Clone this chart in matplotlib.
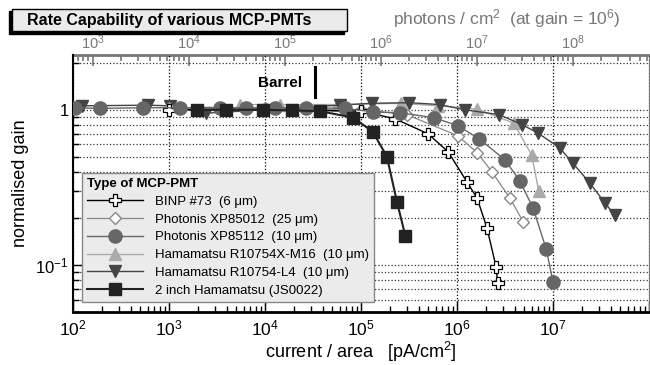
import matplotlib
matplotlib.use('Agg')
import matplotlib.pyplot as plt
from matplotlib.patches import Rectangle
from matplotlib.ticker import LogLocator, NullFormatter, FixedLocator, FixedFormatter

plt.rcParams['font.family'] = 'Liberation Sans'
plt.rcParams['mathtext.fontset'] = 'custom'
plt.rcParams['mathtext.rm'] = 'Liberation Sans'
plt.rcParams['mathtext.it'] = 'Liberation Sans:italic'
plt.rcParams['mathtext.bf'] = 'Liberation Sans:bold'

# data (current / area in pA/cm^2, normalised gain)
binp_x = [1.0e3, 1.0e4, 1.0e5, 2.26e5, 5.0e5, 8.1e5, 1.27e6, 1.62e6, 2.05e6, 2.55e6, 2.65e6]
binp_y = [1.0, 1.0, 0.98, 0.875, 0.70, 0.536, 0.343, 0.27, 0.174, 0.098, 0.077]

xp85012_x = [1.0e3, 1.0e4, 1.0e5, 3.0e5, 1.02e6, 1.62e6, 2.3e6, 3.56e6, 4.9e6]
xp85012_y = [1.02, 1.02, 1.0, 0.93, 0.68, 0.53, 0.40, 0.27, 0.19]

xp85112_x = [105, 190, 535, 1290, 3400, 6400, 1.26e4, 2.7e4, 6.8e4, 1.33e5, 2.56e5,
             5.7e5, 1.02e6, 1.7e6, 3.16e6, 4.5e6, 6.2e6, 8.5e6, 1.0e7]
xp85112_y = [1.03, 1.02, 1.03, 1.03, 1.03, 1.03, 1.03, 1.03, 1.02, 0.97, 0.956,
             0.89, 0.79, 0.65, 0.476, 0.35, 0.233, 0.127, 0.078]

m16_x = [5.5e3, 1.45e4, 5.6e4, 2.6e5, 6.3e5, 1.62e6, 3.9e6, 6.0e6, 7.1e6]
m16_y = [1.08, 1.08, 1.08, 1.10, 1.06, 1.01, 0.82, 0.51, 0.30]

l4_x = [124, 600, 1.02e3, 2.4e3, 6e4, 1.29e5, 3.2e5, 6.6e5, 1.2e6, 2.75e6, 4.8e6,
        6.9e6, 1.17e7, 1.6e7, 2.4e7, 3.5e7, 4.4e7]
l4_y = [1.06, 1.07, 1.06, 0.95, 1.07, 1.10, 1.11, 1.08, 1.0, 0.93, 0.80,
        0.71, 0.57, 0.455, 0.34, 0.25, 0.21]

js0022_x = [1950, 3900, 9550, 1.9e4, 3.7e4, 8.3e4, 1.33e5, 1.86e5, 2.37e5, 2.9e5]
js0022_y = [1.0, 1.0, 1.0, 0.99, 0.98, 0.89, 0.72, 0.50, 0.255, 0.154]

labels = ['BINP #73  (6 μm)', 'Photonis XP85012  (25 μm)', 'Photonis XP85112  (10 μm)',
          'Hamamatsu R10754X-M16  (10 μm)', 'Hamamatsu R10754-L4  (10 μm)',
          '2 inch Hamamatsu (JS0022)']

bottom_ticks = [1e2, 1e3, 1e4, 1e5, 1e6, 1e7, 1e8]
bottom_ticklabels = [r'$10^{2}$', r'$10^{3}$', r'$10^{4}$', r'$10^{5}$', r'$10^{6}$', r'$10^{7}$', '']
top_ticks = [1e3, 1e4, 1e5, 1e6, 1e7, 1e8]
top_ticklabels = [r'$10^{3}$', r'$10^{4}$', r'$10^{5}$', r'$10^{6}$', r'$10^{7}$', r'$10^{8}$']

photons_per_pA = 6.25   # pA/cm^2 -> photons/cm^2 at gain 1e6

fig = plt.figure(figsize=(6.5, 3.65), dpi=100)
ax = fig.add_axes([73/650, 1-312/365, 576/650, 257/365])

# series, drawn back to front
h_m16, = ax.plot(m16_x, m16_y, marker='^', ms=9, color='#aaaaaa', lw=1, zorder=3, label=labels[3])
h_l4, = ax.plot(l4_x, l4_y, marker='v', ms=9, color='#444444', lw=1, zorder=3, label=labels[4])
h_012, = ax.plot(xp85012_x, xp85012_y, marker='D', ms=6.5, color='#888888', mfc='white',
                 mec='#888888', lw=0.9, zorder=4, label=labels[1])
h_binp, = ax.plot(binp_x, binp_y, marker='P', ms=8.5, color='black', mfc='white',
                  mec='black', mew=0.9, lw=1, zorder=5, label=labels[0])
h_112, = ax.plot(xp85112_x, xp85112_y, marker='o', ms=9.5, color='#666666', lw=1, zorder=6, label=labels[2])
h_js, = ax.plot(js0022_x, js0022_y, marker='s', ms=9, color='#222222', lw=1.5, zorder=7, label=labels[5])

ax.set_xscale('log')
ax.set_yscale('log')
ax.set_xlim(1e2, 1e8)
ax.set_ylim(0.05, 2.25)

ax.xaxis.set_major_locator(FixedLocator(bottom_ticks))
ax.xaxis.set_major_formatter(FixedFormatter(bottom_ticklabels))
ax.xaxis.set_minor_locator(LogLocator(base=10, subs=range(2, 10), numticks=100))
ax.xaxis.set_minor_formatter(NullFormatter())
ax.yaxis.set_major_locator(FixedLocator([0.1, 1]))
ax.yaxis.set_major_formatter(FixedFormatter([r'$10^{-1}$', '1']))
ax.yaxis.set_minor_locator(LogLocator(base=10, subs=range(2, 10), numticks=100))
ax.yaxis.set_minor_formatter(NullFormatter())

ax.grid(True, which='major', axis='x', ls=':', color='black', lw=0.9)
ax.grid(True, which='both', axis='y', ls=':', color='#333333', lw=0.9)
ax.set_axisbelow(True)

ax.tick_params(which='both', direction='in', top=False, right=False, labelsize=12.5)
ax.tick_params(which='major', length=8, width=1)
ax.tick_params(which='minor', length=4, width=1)
ax.tick_params(axis='x', pad=5)
ax.tick_params(axis='y', pad=3, labelsize=12)
ax.spines['bottom'].set_linewidth(2)
ax.spines['left'].set_linewidth(1.5)
ax.spines['right'].set_linewidth(0.8)
ax.spines['right'].set_color('#777777')
ax.spines['top'].set_visible(False)

ax.set_xlabel('current / area   [pA/cm$^2$]', fontsize=13, labelpad=1)
ax.set_ylabel('normalised gain', fontsize=13, labelpad=5)

# top axis: photons / cm^2
secax = ax.secondary_xaxis('top', functions=(lambda x: x * photons_per_pA,
                                             lambda x: x / photons_per_pA))
secax.xaxis.set_major_locator(FixedLocator(top_ticks))
secax.xaxis.set_major_formatter(FixedFormatter(top_ticklabels))
secax.xaxis.set_minor_locator(LogLocator(base=10, subs=range(2, 10), numticks=100))
secax.xaxis.set_minor_formatter(NullFormatter())
secax.tick_params(which='both', direction='in', colors='#777777', labelsize=10.5, pad=2)
secax.tick_params(which='major', length=8, width=1.2)
secax.tick_params(which='minor', length=4, width=1.2)
secax.spines['top'].set_color('#777777')
secax.spines['top'].set_linewidth(2)

fig.text(393/650, 1-24/365, 'photons / cm$^2$  (at gain = 10$^6$)', color='#777777',
         fontsize=12.5, va='baseline', ha='left')

# Barrel marker
ax.text(2.43e4, 1.49, 'Barrel', fontsize=11, fontweight='bold', ha='right', va='center')
ax.plot([3.3e4, 3.3e4], [1.21, 1.87], color='black', lw=2.2, zorder=8)

# title box with shadow
fig.patches.append(Rectangle((9/650, 1-34/365), 335/650, 23/365, transform=fig.transFigure,
                             facecolor='black', edgecolor='black', zorder=1))
fig.patches.append(Rectangle((12/650, 1-31/365), 335/650, 22/365, transform=fig.transFigure,
                             facecolor='#ebebeb', edgecolor='black', lw=1, zorder=2))
fig.text(27/650, 1-20/365, 'Rate Capability of various MCP-PMTs', fontsize=11.5,
         fontweight='bold', va='center', ha='left', zorder=3)

leg = ax.legend(handles=[h_binp, h_012, h_112, h_m16, h_l4, h_js],
                title='Type of MCP-PMT', loc='lower left',
                bbox_to_anchor=(9/576, 10/257), borderaxespad=0,
                fontsize=9.5, title_fontproperties={'weight': 'bold', 'size': 9.5},
                handlelength=4.2, handletextpad=0.9, labelspacing=0.42,
                fancybox=False, framealpha=1, facecolor='#ebebeb', edgecolor='#888888',
                borderpad=0.4, alignment='left')
leg.get_frame().set_linewidth(1)
leg.set_zorder(10)

fig.savefig('out.png', dpi=100)
